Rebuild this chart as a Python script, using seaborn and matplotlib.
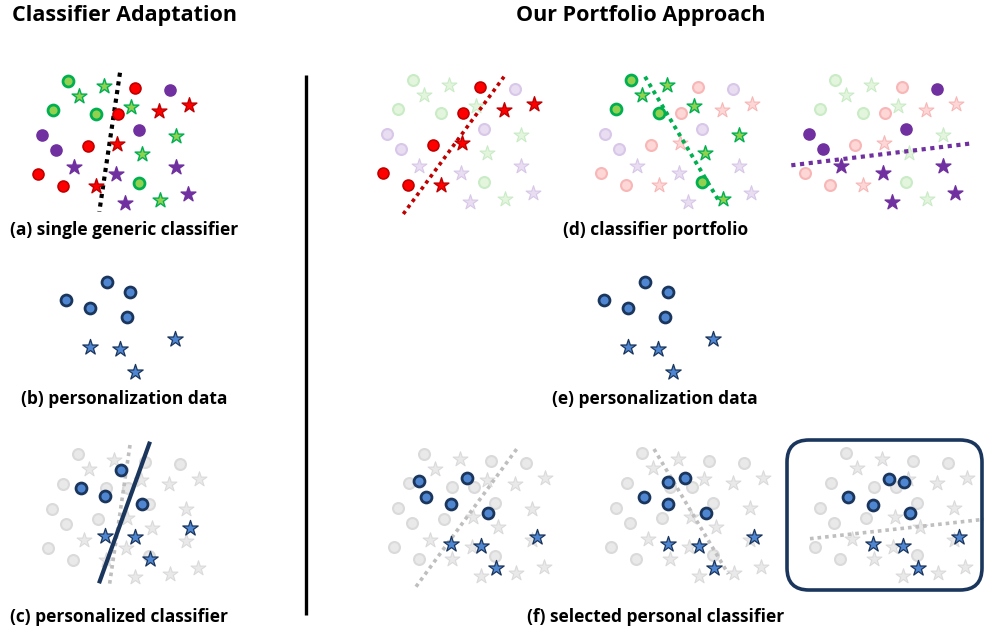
import numpy as np
import pandas as pd
import matplotlib
matplotlib.use("Agg")
import matplotlib.pyplot as plt
from matplotlib.patches import FancyBboxPatch
import seaborn as sns

# ---------------- data ----------------
# base point cloud (panel a coordinates, pixels)
circ_x = [68.3, 53.3, 96, 135, 170, 118.3, 139, 42.3, 56, 88.3, 37.7, 62.7, 139]
circ_y = [80.7, 110, 114, 88.3, 90, 114, 130, 135, 150, 145.7, 174.3, 186, 182.7]
circ_cls = ['g', 'g', 'g', 'r', 'p', 'r', 'p', 'p', 'p', 'r', 'r', 'r', 'g']
star_x = [79, 104, 130.7, 159, 189.3, 176, 117.3, 142.3, 74, 115.7, 176, 96, 125, 160, 187.7]
star_y = [95.7, 86, 106.7, 110.7, 105, 135.7, 144, 154.3, 166.7, 174, 167.3, 186, 203.3, 200, 194]
star_cls = ['g', 'g', 'g', 'r', 'r', 'g', 'r', 'g', 'p', 'p', 'p', 'r', 'p', 'g', 'p']

# personalization data (blue) per panel
b_circ_x = [106.7, 130, 66, 90, 127.3]
b_circ_y = [282.3, 292, 300.3, 308.3, 316.7]
b_star_x = [90, 120, 175.3, 135.3]
b_star_y = [347.3, 349.3, 339.3, 371.7]

c_circ_x = [121, 80.7, 105, 142]
c_circ_y = [470, 488.3, 496, 504]
c_star_x = [105, 134.7, 190, 150]
c_star_y = [535.7, 537.3, 527.7, 559.3]

f1_circ_x = [419.3, 466.7, 426, 450.7, 488]
f1_circ_y = [481, 478.3, 496.7, 504.3, 512.7]
f1_star_x = [450.7, 481.3, 536.7, 496]
f1_star_y = [544, 546, 536.7, 567.7]

f2_circ_x = [668.3, 685, 644, 668.3, 706]
f2_circ_y = [482.3, 478.3, 496.7, 504.3, 512.7]
f2_star_x = [668.3, 699, 754.3, 714.3]
f2_star_y = [544, 546, 536.7, 567.7]

f3_circ_x = [889.3, 904, 848.3, 872.7, 910]
f3_circ_y = [479, 482.3, 496.7, 504.7, 512.7]
f3_star_x = [872.7, 903.3, 959, 918.3]
f3_star_y = [544, 545.7, 536.7, 567.7]

# classifier boundary end points
a_line_x = [120, 99.3]
a_line_y = [72.7, 211.7]
d1_line_x = [403.3, 504]
d1_line_y = [214, 76.7]
d2_line_x = [645, 718.3]
d2_line_y = [76.7, 200]
d3_line_x = [791.3, 972.3]
d3_line_y = [165.3, 143.3]
c_solid_x = [150, 99]
c_solid_y = [441.7, 583.3]
c_dot_x = [130, 109.3]
c_dot_y = [445, 586]
f1_line_x = [416, 516.7]
f1_line_y = [586.7, 449]
f2_line_x = [654, 728.3]
f2_line_y = [449, 574]
f3_line_x = [810, 984]
f3_line_y = [538.7, 519.3]

titles = ["Classifier Adaptation", "Our Portfolio Approach"]
captions = ["(a) single generic classifier", "(b) personalization data",
            "(c) personalized classifier", "(d) classifier portfolio",
            "(e) personalization data", "(f) selected personal classifier"]

# ---------------- style ----------------
sns.set_theme(style="white")
plt.rcParams['font.family'] = ['Open Sans', 'DejaVu Sans']

solid = {
    'g': dict(face='#92D050', edge='#00B050'),
    'r': dict(face='#FF0000', edge='#C00000'),
    'p': dict(face='#7030A0', edge='#7030A0'),
}
faded = {
    'g': dict(face='#E3F5DC', edge='#C9EBC6'),
    'r': dict(face='#FDD6D6', edge='#F8B6B6'),
    'p': dict(face='#E8DDF1', edge='#D8C7E8'),
}
gray = dict(face='#E9E9E9', edge='#DADADA')
blue = dict(face='#4F86D1', edge='#1B365D')

CS = 62    # circle marker size
SS = 125   # star marker size

cloud = pd.concat([
    pd.DataFrame({'x': circ_x, 'y': circ_y, 'cls': circ_cls, 'm': 'o'}),
    pd.DataFrame({'x': star_x, 'y': star_y, 'cls': star_cls, 'm': '*'}),
], ignore_index=True)

fig = plt.figure(figsize=(9.84, 6.3), dpi=100)
ax = fig.add_axes([0, 0, 1, 1])
ax.set_xlim(0, 984)
ax.set_ylim(630, 0)
ax.axis('off')


def draw_cloud(dx, dy, highlight=None, all_solid=False, all_gray=False):
    for (cls, m), g in cloud.groupby(['cls', 'm']):
        if all_gray:
            st, z = gray, 2
        elif all_solid or cls == highlight:
            st, z = solid[cls], 5
        else:
            st, z = faded[cls], 2
        is_solid = st is solid.get(cls)
        if m == 'o':
            lw = 2.0 if (cls == 'g' and is_solid) else (1.2 if is_solid else 1.5)
            s = CS
        else:
            lw = 1.0 if is_solid else 0.8
            s = SS
        sns.scatterplot(x=g['x'] + dx, y=g['y'] + dy, marker=m, s=s,
                        color=st['face'], edgecolor=st['edge'], linewidth=lw,
                        ax=ax, legend=False, zorder=z)


def draw_blue(cx, cy, sx, sy):
    sns.scatterplot(x=cx, y=cy, marker='o', s=CS, color=blue['face'],
                    edgecolor=blue['edge'], linewidth=2.0, ax=ax, legend=False, zorder=6)
    sns.scatterplot(x=sx, y=sy, marker='*', s=SS + 10, color=blue['face'],
                    edgecolor=blue['edge'], linewidth=0.9, ax=ax, legend=False, zorder=6)


def dotted(x, y, color, lw, z=4):
    ax.plot(x, y, color=color, lw=lw, linestyle=(0, (1, 1.1)),
            dash_capstyle='butt', zorder=z)


# panel a
draw_cloud(0, 0, all_solid=True)
dotted(a_line_x, a_line_y, 'black', 3.0)
# panels d
draw_cloud(345, -1, highlight='r')
dotted(d1_line_x, d1_line_y, '#C00000', 2.6)
draw_cloud(563, -1, highlight='g')
dotted(d2_line_x, d2_line_y, '#00B050', 2.8)
draw_cloud(767, -1, highlight='p')
dotted(d3_line_x, d3_line_y, '#7030A0', 3.0)

# panels b, e
draw_blue(b_circ_x, b_circ_y, b_star_x, b_star_y)
draw_blue(np.array(b_circ_x) + 538, b_circ_y, np.array(b_star_x) + 538, b_star_y)

# panel c
draw_cloud(10, 373.5, all_gray=True)
dotted(c_dot_x, c_dot_y, '#BFBFBF', 2.6, z=3)
ax.plot(c_solid_x, c_solid_y, color='#1B365D', lw=3.0, solid_capstyle='butt', zorder=4)
draw_blue(c_circ_x, c_circ_y, c_star_x, c_star_y)

# panels f
draw_cloud(356, 373, all_gray=True)
dotted(f1_line_x, f1_line_y, '#BFBFBF', 2.6, z=3)
draw_blue(f1_circ_x, f1_circ_y, f1_star_x, f1_star_y)
draw_cloud(573.5, 372.6, all_gray=True)
dotted(f2_line_x, f2_line_y, '#BFBFBF', 2.6, z=3)
draw_blue(f2_circ_x, f2_circ_y, f2_star_x, f2_star_y)
draw_cloud(777.7, 372.6, all_gray=True)
dotted(f3_line_x, f3_line_y, '#BFBFBF', 2.6, z=3)
draw_blue(f3_circ_x, f3_circ_y, f3_star_x, f3_star_y)

# selection box
box = FancyBboxPatch((787, 440), 195, 150, boxstyle="round,pad=0,rounding_size=22",
                     fill=False, edgecolor='#1B365D', lw=2.6, zorder=7)
ax.add_patch(box)

# separator
ax.plot([306, 306], [75, 615], color='black', lw=2.4, solid_capstyle='butt', zorder=1)

# texts
ax.text(125, 15, titles[0], ha='center', va='center', fontsize=15.5, fontweight='bold', color='black')
ax.text(641, 15, titles[1], ha='center', va='center', fontsize=15.5, fontweight='bold', color='black')
cap_pos = [(124, 230), (124, 399), (119, 617), (656, 230), (655, 399), (656, 617)]
for (x, y), t in zip(cap_pos, captions):
    ax.text(x, y, t, ha='center', va='center', fontsize=12.5, fontweight='bold', color='black')

fig.savefig("out.png", dpi=100)
